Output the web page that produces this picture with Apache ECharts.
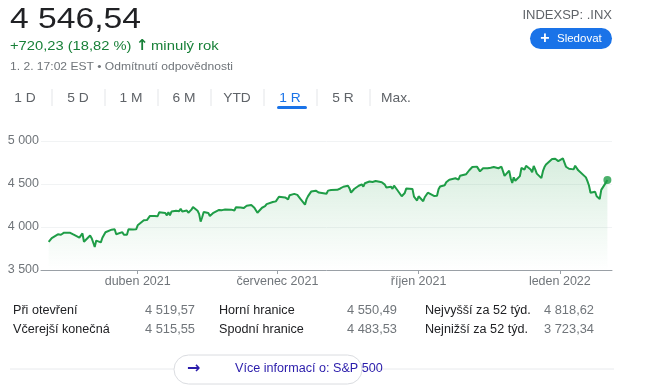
<!DOCTYPE html>
<html><head><meta charset="utf-8">
<script src="https://cdn.jsdelivr.net/npm/echarts@6/dist/echarts.min.js"></script>
<style>html,body{margin:0;padding:0;background:#fff}#c{width:650px;height:390px}</style>
</head><body><div id="c"></div>
<script>
const tradeDates = [
'2021-02-02','2021-02-03','2021-02-04','2021-02-05','2021-02-08','2021-02-09','2021-02-10','2021-02-11','2021-02-12','2021-02-16','2021-02-17','2021-02-18','2021-02-19','2021-02-22','2021-02-23','2021-02-24','2021-02-25','2021-02-26',
'2021-03-01','2021-03-02','2021-03-03','2021-03-04','2021-03-05','2021-03-08','2021-03-09','2021-03-10','2021-03-11','2021-03-12','2021-03-15','2021-03-16','2021-03-17','2021-03-18','2021-03-19','2021-03-22','2021-03-23','2021-03-24','2021-03-25','2021-03-26','2021-03-29','2021-03-30','2021-03-31',
'2021-04-01','2021-04-05','2021-04-06','2021-04-07','2021-04-08','2021-04-09','2021-04-12','2021-04-13','2021-04-14','2021-04-15','2021-04-16','2021-04-19','2021-04-20','2021-04-21','2021-04-22','2021-04-23','2021-04-26','2021-04-27','2021-04-28','2021-04-29','2021-04-30',
'2021-05-03','2021-05-04','2021-05-05','2021-05-06','2021-05-07','2021-05-10','2021-05-11','2021-05-12','2021-05-13','2021-05-14','2021-05-17','2021-05-18','2021-05-19','2021-05-20','2021-05-21','2021-05-24','2021-05-25','2021-05-26','2021-05-27','2021-05-28',
'2021-06-01','2021-06-02','2021-06-03','2021-06-04','2021-06-07','2021-06-08','2021-06-09','2021-06-10','2021-06-11','2021-06-14','2021-06-15','2021-06-16','2021-06-17','2021-06-18','2021-06-21','2021-06-22','2021-06-23','2021-06-24','2021-06-25','2021-06-28','2021-06-29','2021-06-30',
'2021-07-01','2021-07-02','2021-07-06','2021-07-07','2021-07-08','2021-07-09','2021-07-12','2021-07-13','2021-07-14','2021-07-15','2021-07-16','2021-07-19','2021-07-20','2021-07-21','2021-07-22','2021-07-23','2021-07-26','2021-07-27','2021-07-28','2021-07-29','2021-07-30',
'2021-08-02','2021-08-03','2021-08-04','2021-08-05','2021-08-06','2021-08-09','2021-08-10','2021-08-11','2021-08-12','2021-08-13','2021-08-16','2021-08-17','2021-08-18','2021-08-19','2021-08-20','2021-08-23','2021-08-24','2021-08-25','2021-08-26','2021-08-27','2021-08-30','2021-08-31',
'2021-09-01','2021-09-02','2021-09-03','2021-09-07','2021-09-08','2021-09-09','2021-09-10','2021-09-13','2021-09-14','2021-09-15','2021-09-16','2021-09-17','2021-09-20','2021-09-21','2021-09-22','2021-09-23','2021-09-24','2021-09-27','2021-09-28','2021-09-29','2021-09-30',
'2021-10-01','2021-10-04','2021-10-05','2021-10-06','2021-10-07','2021-10-08','2021-10-11','2021-10-12','2021-10-13','2021-10-14','2021-10-15','2021-10-18','2021-10-19','2021-10-20','2021-10-21','2021-10-22','2021-10-25','2021-10-26','2021-10-27','2021-10-28','2021-10-29',
'2021-11-01','2021-11-02','2021-11-03','2021-11-04','2021-11-05','2021-11-08','2021-11-09','2021-11-10','2021-11-11','2021-11-12','2021-11-15','2021-11-16','2021-11-17','2021-11-18','2021-11-19','2021-11-22','2021-11-23','2021-11-24','2021-11-26','2021-11-29','2021-11-30',
'2021-12-01','2021-12-02','2021-12-03','2021-12-06','2021-12-07','2021-12-08','2021-12-09','2021-12-10','2021-12-13','2021-12-14','2021-12-15','2021-12-16','2021-12-17','2021-12-20','2021-12-21','2021-12-22','2021-12-23','2021-12-27','2021-12-28','2021-12-29','2021-12-30','2021-12-31',
'2022-01-03','2022-01-04','2022-01-05','2022-01-06','2022-01-07','2022-01-10','2022-01-11','2022-01-12','2022-01-13','2022-01-14','2022-01-18','2022-01-19','2022-01-20','2022-01-21','2022-01-24','2022-01-25','2022-01-26','2022-01-27','2022-01-28','2022-01-31',
'2022-02-01'];
const closes = [
3826,3830,3871,3887,3915,3911,3910,3916,3934,3932,3931,3913,3906,3876,3881,3925,3829,3811,
3901,3870,3820,3768,3842,3821,3875,3898,3939,3943,3969,3963,3974,3915,3913,3940,3911,3889,3910,3975,3971,3959,3973,
4020,4078,4074,4080,4097,4129,4128,4142,4125,4171,4185,4163,4135,4173,4135,4180,4188,4187,4184,4211,4181,
4192,4165,4168,4202,4233,4189,4153,4063,4113,4174,4164,4128,4116,4160,4156,4198,4188,4196,4201,4204,
4202,4208,4192,4230,4227,4227,4220,4239,4247,4255,4246,4224,4222,4166,4224,4246,4242,4266,4281,4291,4291,4298,
4320,4352,4344,4358,4321,4370,4385,4369,4374,4361,4327,4259,4324,4359,4368,4412,4422,4402,4400,4419,4395,
4387,4423,4403,4429,4437,4432,4436,4448,4460,4468,4479,4448,4400,4406,4442,4480,4486,4496,4470,4509,4529,4523,
4524,4537,4535,4520,4514,4493,4459,4469,4443,4481,4474,4433,4358,4354,4396,4449,4455,4443,4353,4360,4308,
4357,4300,4346,4364,4399,4391,4361,4351,4364,4438,4471,4486,4520,4537,4549,4545,4567,4575,4551,4596,4605,
4614,4631,4660,4680,4697,4702,4686,4647,4650,4683,4683,4701,4689,4704,4698,4683,4691,4701,4595,4655,4567,
4513,4577,4538,4592,4686,4701,4668,4712,4669,4635,4710,4669,4621,4568,4649,4697,4726,4791,4786,4793,4778,4766,
4797,4794,4701,4696,4677,4670,4713,4726,4659,4663,4577,4533,4483,4398,4410,4357,4350,4326,4432,4516,
4546.54];
const xTickDates = ['2021-04-01','2021-07-01','2021-10-01','2022-01-01'];
const xTickLabels = ['duben 2021','červenec 2021','říjen 2021','leden 2022'];
const yTicks = [3500, 4000, 4500, 5000];
const axisStart = '2021-01-28', axisEnd = '2022-02-04';

const statLabels1 = ['Při otevření','Horní hranice','Nejvyšší za 52 týd.'];
const statValues1 = ['4 519,57','4 550,49','4 818,62'];
const statLabels2 = ['Včerejší konečná','Spodní hranice','Nejnižší za 52 týd.'];
const statValues2 = ['4 515,55','4 483,53','3 723,34'];
const tabs = ['1 D','5 D','1 M','6 M','YTD','1 R','5 R','Max.'];

const ts = s => { const p = s.split('-').map(Number); return Date.UTC(p[0], p[1]-1, p[2]); };
const seriesData = tradeDates.map((d,i) => [ts(d), closes[i]]);
const tickVals = xTickDates.map(ts);
const fmtNum = v => String(v).replace(/\B(?=(\d{3})+$)/g, ' ');
const FONT = 'Arial, "Liberation Sans", sans-serif';
const GREEN = '#1f9d47';

const g = [];
function txt(x, y, text, size, fill, opts, sx) {
  g.push({type:'text', x, y, scaleX: sx || 1, silent:true, style:Object.assign({text, font: size+'px '+FONT, fill, textVerticalAlign:'middle'}, (opts||{}))});
}
// header
txt(10, 20, '4 546,54', 29, '#202124', null, 1.16);
txt(10, 46, '+720,23 (18,82 %)', 13.5, '#188038', null, 1.09);
txt(136, 46, '↑', 15, '#188038', {font:'bold 15px "DejaVu Sans", sans-serif'});
txt(151, 46, 'minulý rok', 13.5, '#188038', null, 1.1);
txt(10, 67, '1. 2. 17:02 EST • Odmítnutí odpovědnosti', 11.5, '#70757a', null, 1.05);
txt(612, 15, 'INDEXSP: .INX', 13, '#5f6368', {textAlign:'right'});
g.push({type:'rect', shape:{x:530, y:28, width:82, height:21, r:10.5}, style:{fill:'#1a73e8'}});
txt(545, 38.5, '+', 16, '#ffffff', {textAlign:'center', font:'bold 16px '+FONT});
txt(557, 38.5, 'Sledovat', 11.5, '#ffffff');
// tabs
tabs.forEach((t,i) => {
  const cx = 25 + i*53;
  txt(cx, 98, t, 13, t === '1 R' ? '#1a73e8' : '#5f6368', {textAlign:'center'}, 1.06);
  if (i < tabs.length - 1) g.push({type:'line', shape:{x1:cx+27, y1:89, x2:cx+27, y2:106}, style:{stroke:'#e3e5e8', lineWidth:1}});
});
g.push({type:'rect', shape:{x:277, y:106, width:30, height:3, r:1.5}, style:{fill:'#1a73e8'}});
// stats
const colX = [[13,145],[219,347],[425,544]];
colX.forEach((c,i) => {
  txt(c[0], 311, statLabels1[i], 12, '#202124', null, 1.05);
  txt(c[1], 311, statValues1[i], 12, '#70757a', null, 1.07);
  txt(c[0], 330, statLabels2[i], 12, '#202124', null, 1.05);
  txt(c[1], 330, statValues2[i], 12, '#70757a', null, 1.07);
});
// bottom button
g.push({type:'line', shape:{x1:10, y1:369, x2:614, y2:369}, style:{stroke:'#e8eaed', lineWidth:1}});
g.push({type:'rect', shape:{x:174, y:355, width:188, height:29, r:14.5}, style:{fill:'#ffffff', stroke:'#dadce0', lineWidth:1}});
txt(187, 369, '→', 16, '#2a1cab', {font:'bold 16px "DejaVu Sans", sans-serif'});
txt(235, 369, 'Více informací o: S&P 500', 12, '#2a1cab', null, 1.05);

const chart = echarts.init(document.getElementById('c'), null, {renderer:'canvas'});
chart.setOption({
  animation:false,
  grid:{left:41, right:38, top:141, bottom:120},
  xAxis:{
    type:'value', min:ts(axisStart), max:ts(axisEnd), scale:true,
    axisLine:{onZero:false, lineStyle:{color:'#9aa0a6', width:1}},
    axisTick:{show:true, length:4, customValues:tickVals, lineStyle:{color:'#9aa0a6'}},
    axisLabel:{customValues:tickVals, color:'#70757a', fontSize:12.5, fontFamily:FONT, margin:5,
      formatter: v => { const i = tickVals.indexOf(v); return i >= 0 ? xTickLabels[i] : ''; }},
    splitLine:{show:false}
  },
  yAxis:{
    type:'value', min:yTicks[0], max:yTicks[yTicks.length-1], interval:500,
    axisLine:{show:false}, axisTick:{show:false},
    axisLabel:{color:'#70757a', fontSize:12.5, fontFamily:FONT, margin:2, formatter: v => fmtNum(v)},
    splitLine:{lineStyle:{color:'#f1f3f4', width:1}}
  },
  series:[
    {type:'line', data:seriesData, showSymbol:false, symbol:'none',
     lineStyle:{color:GREEN, width:2}, itemStyle:{color:GREEN},
     areaStyle:{color:new echarts.graphic.LinearGradient(0,0,0,1,[{offset:0,color:'rgba(31,157,71,0.25)'},{offset:1,color:'rgba(31,157,71,0)'}])}},
    {type:'scatter', data:[seriesData[seriesData.length-1]], symbolSize:8, itemStyle:{color:GREEN}, z:5}
  ],
  graphic:g
});
</script></body></html>
